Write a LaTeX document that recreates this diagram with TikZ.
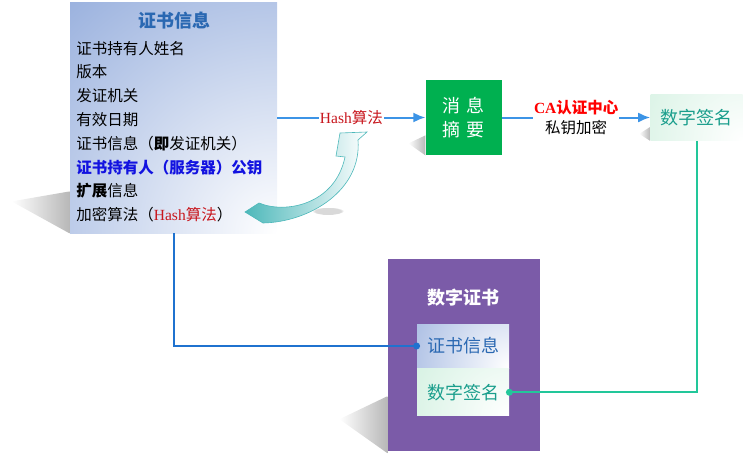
\documentclass[tikz,border=0pt]{standalone}
\usepackage{fontspec}
\setmainfont{Noto Sans CJK SC}
\newfontfamily\latinserif{Liberation Serif}
\usetikzlibrary{arrows.meta,positioning,calc,fadings,backgrounds}

\definecolor{certblue}{HTML}{7897D3}
\definecolor{titleblue}{HTML}{2A68B2}
\definecolor{keyblue}{HTML}{1212E0}
\definecolor{hashred}{HTML}{C8161D}
\definecolor{msggreen}{HTML}{00B050}
\definecolor{signgreen}{HTML}{BFEAD3}
\definecolor{signtext}{HTML}{1A9E8C}
\definecolor{flowblue}{HTML}{3C94E6}
\definecolor{linkblue}{HTML}{1F72CF}
\definecolor{linkgreen}{HTML}{22C79A}
\definecolor{certpurple}{HTML}{7B5BA8}
\definecolor{arrowteal}{HTML}{4DB8BA}

\newcommand{\setsize}[2]{\fontsize{#1}{#2}\selectfont}

\begin{document}
\begin{tikzpicture}[x=1pt,y=-1pt,thick,node distance=148pt,
    fade box/.style 2 args={inner sep=0pt,path picture={\shade[inner color=white,outer color=#1]
        (path picture bounding box.south east) circle (#2);}},
    item/.style={anchor=west,inner sep=0pt,font=\setsize{15.5}{18}},
    cell/.style={minimum width=92pt,font=\setsize{18}{20}},
    flow/.style={flowblue,line width=2pt,-{Latex[length=12pt,width=10pt]}},
    link/.style={line width=2pt},
    cast/.style={left color=white,right color=black!28}]

  \useasboundingbox (0,0) rectangle (750,458);

  % certificate fields
  \node[fade box={certblue}{420pt},minimum width=207pt,minimum height=231pt] (certinfo) at (173.5,117.5) {};
  \node[font=\setsize{18}{20}\bfseries,text=titleblue] (title) at (174,21) {证书信息};
  \foreach \line [count=\i from 0] in {证书持有人姓名,版本,发证机关,有效日期,
      {证书信息（{\bfseries 即}发证机关）},
      {{\color{keyblue}\bfseries 证书持有人（服务器）公钥}},
      {{\bfseries 扩展}信息},
      {加密算法（\textcolor{hashred}{{\latinserif Hash}算法}）}}
    \node[item] (item\i) at (76,48.3+23.8*\i) {\line};

  \node[fill=msggreen,minimum width=76pt,minimum height=75pt,text=white,align=center,
        font=\setsize{18}{24}] (msg) [right=of certinfo] {消\hspace{6pt}息\\摘\hspace{6pt}要};
  \node[fade box={signgreen}{190pt},minimum width=92pt,minimum height=46pt,text=signtext,
        font=\setsize{18}{20}] (sig) [right=of msg] {数字签名};

  % digital certificate
  \node[fill=certpurple,minimum width=152pt,minimum height=192pt] (cert) [below=103pt of msg] {};
  \node[text=white,font=\setsize{18}{20}\bfseries] (certtitle) at (463,298) {数字证书};
  \node[cell,fade box={certblue}{170pt},minimum height=44pt,text=titleblue] (cinfo) at (463,346) {证书信息};
  \node[cell,fade box={signgreen}{170pt},minimum height=47pt,text=signtext] (csig) [below=0pt of cinfo] {数字签名};

  \draw[flow] (certinfo) -- node[fill=white,inner sep=1pt,font=\setsize{15.5}{18},text=hashred] (hashlabel)
      {{\latinserif Hash}算法} (msg);
  \draw[flow] (msg) -- node[fill=white,inner sep=1pt,align=center,font=\setsize{15.5}{20},text=black] (calabel)
      {\textcolor{red}{\bfseries{\latinserif CA}认证中心}\\私钥加密} (sig);
  \draw[link,linkblue] (certinfo) |- (cinfo);
  \fill[linkblue] (cinfo.west) circle (3.5pt);
  \draw[link,linkgreen] (sig) |- (csig);
  \fill[linkgreen] (csig.east) circle (3.5pt);

  % curved arrow
  \shadedraw[draw=arrowteal,line width=0.6pt,left color=arrowteal,right color=white]
    (245,212) -- (259,203) .. controls (285,214) and (335,205) .. (345,157) -- (336,156)
    -- (340,133) -- (367,132) -- (358,140) .. controls (362,190) and (310,222) .. (263,223) -- cycle;

  \begin{scope}[on background layer]
    \shade[cast] ($(certinfo.south west)+(0,-42)$) -- ++(-58,10) -- (certinfo.south west) -- cycle;
    \shade[cast] ($(msg.south west)+(0,-20)$) -- ++(-17,8) -- (msg.south west) -- cycle;
    \shade[cast] ($(sig.south west)+(0,-14)$) -- ++(-11,7) -- (sig.south west) -- cycle;
    \shade[cast] ($(cert.south west)+(0,-55)$) -- ++(-48,23) -- ($(cert.south west)+(0,2)$) -- cycle;
    \fill[black!15,path fading=circle with fuzzy edge 20 percent] (328,211) ellipse (16 and 4);
  \end{scope}
\end{tikzpicture}
\end{document}
